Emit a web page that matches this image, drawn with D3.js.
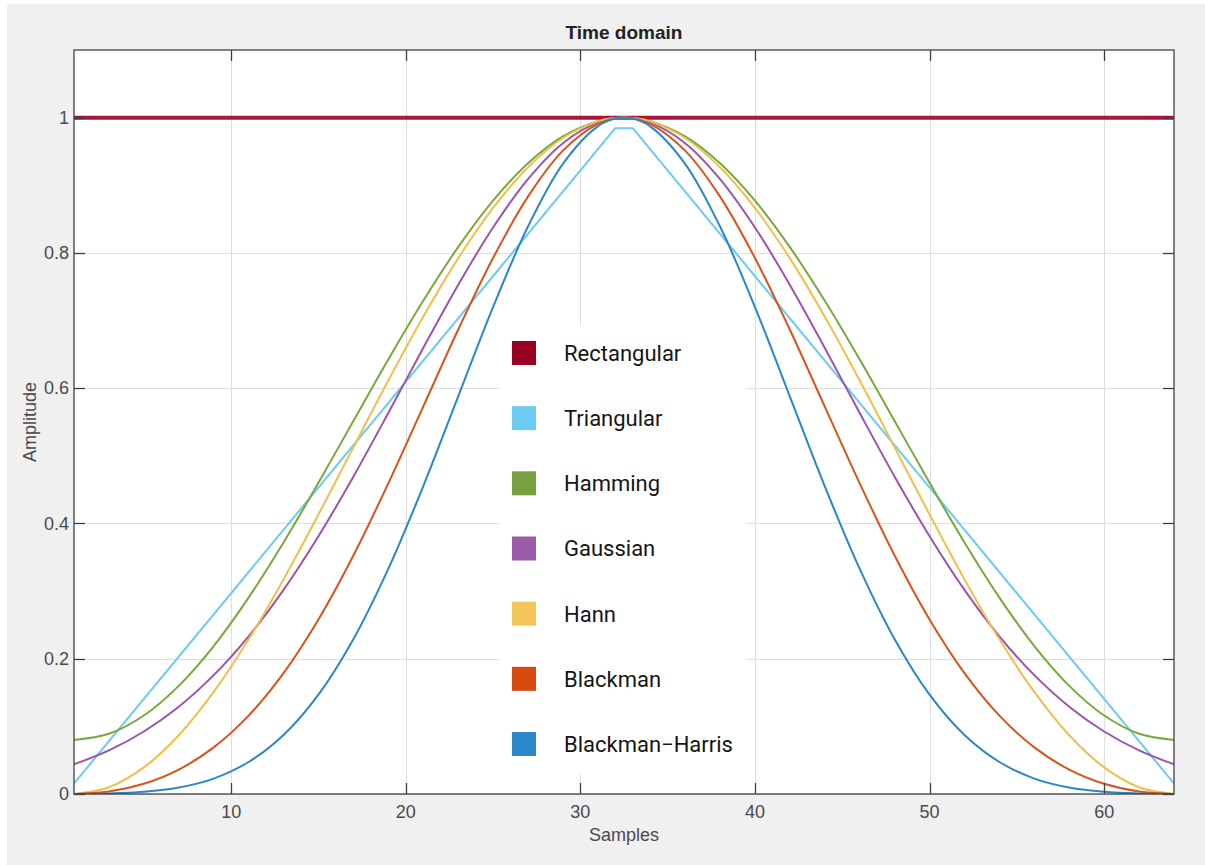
<!DOCTYPE html>
<html><head><meta charset="utf-8">
<script src="https://cdn.jsdelivr.net/npm/d3@7"></script>
<style>html,body{margin:0;padding:0;background:#fff;}svg{display:block;}</style>
</head><body>
<svg id="chart" width="1205" height="865"></svg>
<script>
// ---- data ----
const seriesNames = ["Rectangular","Triangular","Hamming","Gaussian","Hann","Blackman","Blackman\u2212Harris"];
const seriesColors = ["#a8163a","#6ccbf0","#79a83b","#9a55aa","#f0bf4c","#d9531a","#2a87c8"];
const legendColors = ["#990020","#6ccbf0","#77a040","#9b5ba8","#f2c45a","#d84a0f","#2b88c8"];
const samples = [1,3,5,7,9,11,13,15,17,19,21,23,25,27,29,31,32,33,34,36,38,40,42,44,46,48,50,52,54,56,58,60,62,64];
const rectSamples = [1,64];
const rectangular = [1,1];
const triSamples = [1,32,33,64];
const triangular = [0.0156,0.9844,0.9844,0.0156];
const hamming = [0.0800,0.0891,0.1161,0.1599,0.2188,0.2904,0.3719,0.4601,0.5515,0.6424,0.7292,0.8085,0.8772,0.9325,0.9723,0.9949,0.9994,
                 0.9994,0.9949,0.9723,0.9325,0.8772,0.8085,0.7292,0.6424,0.5515,0.4601,0.3719,0.2904,0.2188,0.1599,0.1161,0.0891,0.0800];
const gaussian = [0.0439,0.0645,0.0924,0.1290,0.1757,0.2332,0.3019,0.3812,0.4692,0.5633,0.6593,0.7526,0.8376,0.9091,0.9622,0.9929,0.9992,
                  0.9992,0.9929,0.9622,0.9091,0.8376,0.7526,0.6593,0.5633,0.4692,0.3812,0.3019,0.2332,0.1757,0.1290,0.0924,0.0645,0.0439];
const hann = [0.0000,0.0099,0.0393,0.0869,0.1509,0.2287,0.3173,0.4132,0.5125,0.6113,0.7056,0.7919,0.8665,0.9267,0.9699,0.9944,0.9994,
              0.9994,0.9944,0.9699,0.9267,0.8665,0.7919,0.7056,0.6113,0.5125,0.4132,0.3173,0.2287,0.1509,0.0869,0.0393,0.0099,0.0000];
const blackman = [0.0000,0.0036,0.0151,0.0361,0.0689,0.1158,0.1787,0.2580,0.3526,0.4592,0.5727,0.6864,0.7925,0.8832,0.9512,0.9909,0.9990,
                  0.9990,0.9909,0.9512,0.8832,0.7925,0.6864,0.5727,0.4592,0.3526,0.2580,0.1787,0.1158,0.0689,0.0361,0.0151,0.0036,0.0000];
const blackmanHarris = [0.0001,0.0007,0.0032,0.0095,0.0228,0.0473,0.0873,0.1470,0.2289,0.3328,0.4549,0.5876,0.7200,0.8390,0.9317,0.9871,0.9986,
                        0.9986,0.9871,0.9317,0.8390,0.7200,0.5876,0.4549,0.3328,0.2289,0.1470,0.0873,0.0473,0.0228,0.0095,0.0032,0.0007,0.0001];
const xTicks = [10,20,30,40,50,60];
const yTicks = [0,0.2,0.4,0.6,0.8,1];
const titleText = "Time domain";
const xLabel = "Samples";
const yLabel = "Amplitude";

const seriesX = [rectSamples, triSamples, samples, samples, samples, samples, samples];
const seriesY = [rectangular, triangular, hamming, gaussian, hann, blackman, blackmanHarris];

// ---- layout ----
const svg = d3.select("#chart");
const L = 74, T = 50, R = 1174, B = 794;
const x = d3.scaleLinear().domain([1,64]).range([L,R]);
const y = d3.scaleLinear().domain([0,1.1]).range([B,T]);

svg.append("rect").attr("x",7).attr("y",4).attr("width",1198).attr("height",861).attr("fill","#f0f0f0");
svg.append("rect").attr("x",L).attr("y",T).attr("width",R-L).attr("height",B-T).attr("fill","#fff");

// grid
const grid = svg.append("g").attr("stroke","#dedede").attr("stroke-width",1);
xTicks.forEach(t=>grid.append("line").attr("x1",Math.round(x(t))+0.5).attr("x2",Math.round(x(t))+0.5).attr("y1",T).attr("y2",B));
yTicks.forEach(t=>grid.append("line").attr("y1",Math.round(y(t))+0.5).attr("y2",Math.round(y(t))+0.5).attr("x1",L).attr("x2",R));

// clip
svg.append("clipPath").attr("id","clip").append("rect").attr("x",L).attr("y",T).attr("width",R-L).attr("height",B-T);

const lineGen = d3.line().curve(d3.curveCatmullRom.alpha(0.5));
const curves = svg.append("g").attr("clip-path","url(#clip)").attr("fill","none");
seriesNames.forEach((name,i)=>{
  const pts = seriesX[i].map((s,j)=>[x(s), y(seriesY[i][j])]);
  const gen = (i < 2) ? d3.line() : lineGen;
  curves.append("path").attr("d",gen(pts)).attr("stroke",seriesColors[i])
    .attr("stroke-width", i===0 ? 4 : 2).attr("stroke-linejoin","round");
});

// legend
const lg = svg.append("g");
lg.append("rect").attr("x",499).attr("y",325).attr("width",248).attr("height",448).attr("fill","#fff");
const legY = d3.scalePoint().domain(seriesNames).range([353,744]);
seriesNames.forEach((name,i)=>{
  lg.append("rect").attr("x",512).attr("y",legY(name)-12).attr("width",24).attr("height",24).attr("fill",legendColors[i]);
  lg.append("text").attr("x",564).attr("y",legY(name)).attr("dy","0.36em")
    .attr("font-family","Roboto, sans-serif").attr("font-size",22).attr("fill","#151515").text(name);
});

// axes box and ticks
const ax = svg.append("g").attr("stroke","#404040").attr("stroke-width",1.3).attr("fill","none");
ax.append("rect").attr("x",L).attr("y",T).attr("width",R-L).attr("height",B-T);
const tl = 11;
xTicks.forEach(t=>{
  const px = Math.round(x(t))+0.5;
  ax.append("line").attr("x1",px).attr("x2",px).attr("y1",B).attr("y2",B-tl);
  ax.append("line").attr("x1",px).attr("x2",px).attr("y1",T).attr("y2",T+tl);
});
yTicks.forEach(t=>{
  const py = Math.round(y(t))+0.5;
  ax.append("line").attr("y1",py).attr("y2",py).attr("x1",L).attr("x2",L+tl);
  ax.append("line").attr("y1",py).attr("y2",py).attr("x1",R).attr("x2",R-tl);
});

const tf = "'Liberation Sans', Arial, Helvetica, sans-serif";
const labels = svg.append("g").attr("font-family",tf).attr("fill","#4a4a4a").attr("font-size",18);
xTicks.forEach(t=>labels.append("text").attr("x",x(t)).attr("y",B+24).attr("text-anchor","middle").text(d3.format("d")(t)));
yTicks.forEach(t=>labels.append("text").attr("x",L-5).attr("y",y(t)).attr("dy","0.35em").attr("text-anchor","end").text(d3.format("~g")(t)));

svg.append("text").attr("x",(L+R)/2).attr("y",841).attr("text-anchor","middle")
  .attr("font-family",tf).attr("font-size",18).attr("fill","#4a4a4a").text(xLabel);
svg.append("text").attr("transform",`translate(36,${(T+B)/2}) rotate(-90)`).attr("text-anchor","middle")
  .attr("font-family",tf).attr("font-size",18).attr("fill","#4a4a4a").text(yLabel);
svg.append("text").attr("x",(L+R)/2).attr("y",39).attr("text-anchor","middle")
  .attr("font-family",tf).attr("font-weight","bold").attr("font-size",19).attr("fill","#222").text(titleText);
</script>
</body></html>
